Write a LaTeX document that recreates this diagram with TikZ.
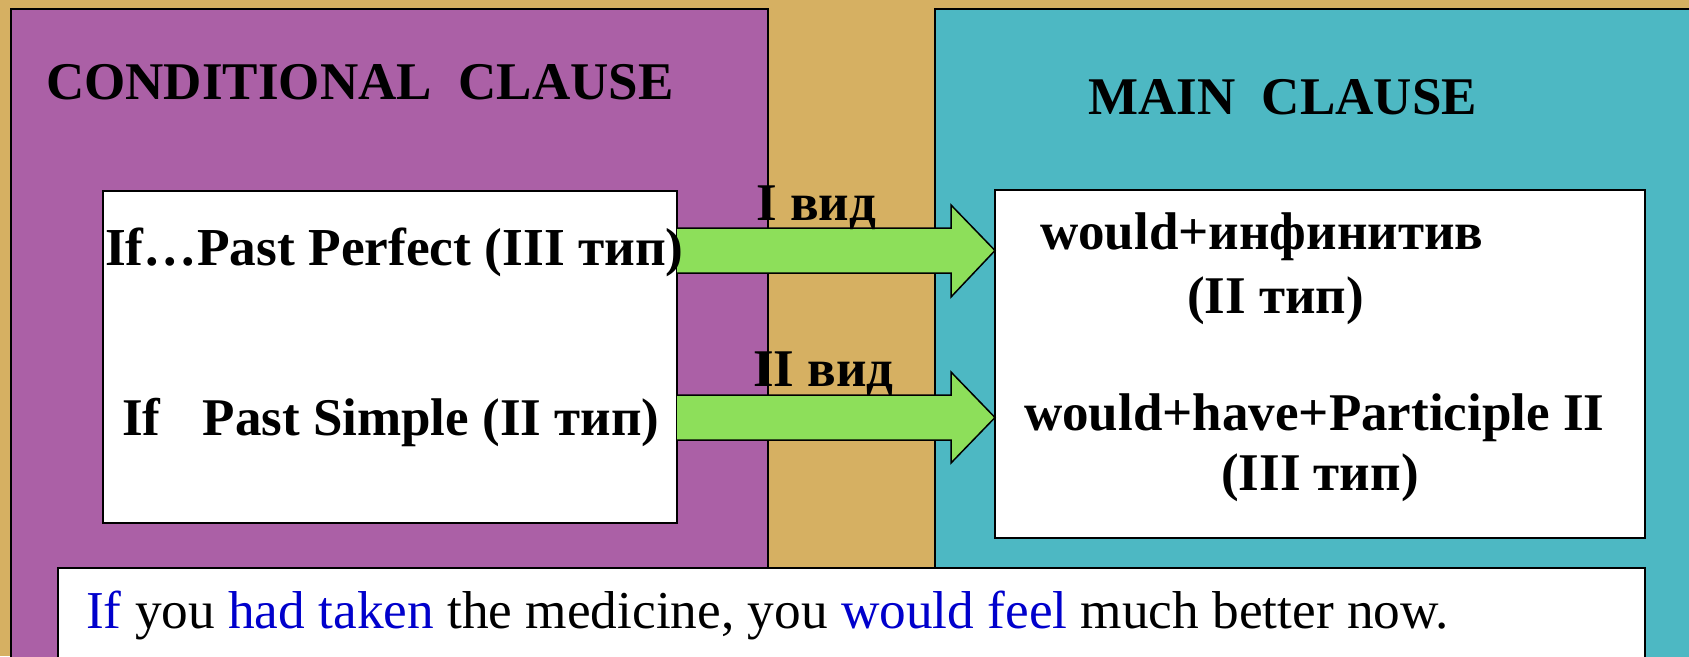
\documentclass[tikz,border=0pt]{standalone}
\usepackage{fontspec}
\setmainfont{Liberation Serif}
\definecolor{tanbg}{RGB}{214,176,98}
\definecolor{purp}{RGB}{171,96,166}
\definecolor{teal2}{RGB}{77,184,195}
\definecolor{grn}{RGB}{141,223,90}
\definecolor{blu}{RGB}{0,0,204}
\tikzset{
  panel/.style={draw=black,line width=1.5pt},
  whitebox/.style={draw=black,fill=white,line width=2pt},
  blockarrow/.style={draw=black,fill=grn,line width=1.5pt,line join=miter},
  bigtxt/.style={inner sep=0pt,font=\fontsize{53}{60}\selectfont\bfseries},
  sentxt/.style={inner sep=0pt,font=\fontsize{53.3}{60}\selectfont},
}
\begin{document}
\begin{tikzpicture}[x=1pt,y=-1pt]
\useasboundingbox (0,0) rectangle (1689,656);
\fill[tanbg] (0,0) rectangle (1689,656);
% panels
\draw[panel,fill=purp] (11,9) rectangle (768,720);
\draw[panel,fill=teal2] (935,9) rectangle (1760,720);
% boxes
\draw[whitebox] (103,191) rectangle (677,523);
\draw[whitebox] (995,190) rectangle (1645,538);
\draw[whitebox] (58,568) rectangle (1645,720);
% arrows
\draw[blockarrow] (677,228) -- (951,228) -- (951,205) -- (995,250.5) -- (951,297) -- (951,273) -- (677,273);
\draw[blockarrow] (677,395) -- (951,395) -- (951,372) -- (995,417.5) -- (951,463) -- (951,440) -- (677,440);
% titles
\node[bigtxt,anchor=base west] (t1) at (46,99) {CONDITIONAL\ \ CLAUSE};
\node[bigtxt,anchor=base west] (t2) at (1088,114) {MAIN\ \ CLAUSE};
% left box texts
\node[bigtxt,anchor=base west,font=\fontsize{53.4}{60}\selectfont\bfseries] (l1) at (105,265) {If…Past Perfect (III тип)};
\node[bigtxt,anchor=base west] (l2) at (122,435) {If\hspace{29pt} Past Simple (II тип)};
% arrow labels
\node[bigtxt,anchor=base west] (v1) at (756,220) {I вид};
\node[bigtxt,anchor=base west] (v2) at (753,386) {II вид};
% right box texts
\node[bigtxt,anchor=base west] (r1) at (1040,249) {would+инфинитив};
\node[bigtxt,anchor=base west] (r2) at (1187,313) {(II тип)};
\node[bigtxt,anchor=base west] (r3) at (1024,430) {would+have+Participle II};
\node[bigtxt,anchor=base west] (r4) at (1221,490) {(III тип)};
% sentence
\node[sentxt,anchor=base west] (s) at (86,628) {\textcolor{blu}{If} you \textcolor{blu}{had taken} the medicine, you \textcolor{blu}{would feel} much better now.};
\end{tikzpicture}
\end{document}
